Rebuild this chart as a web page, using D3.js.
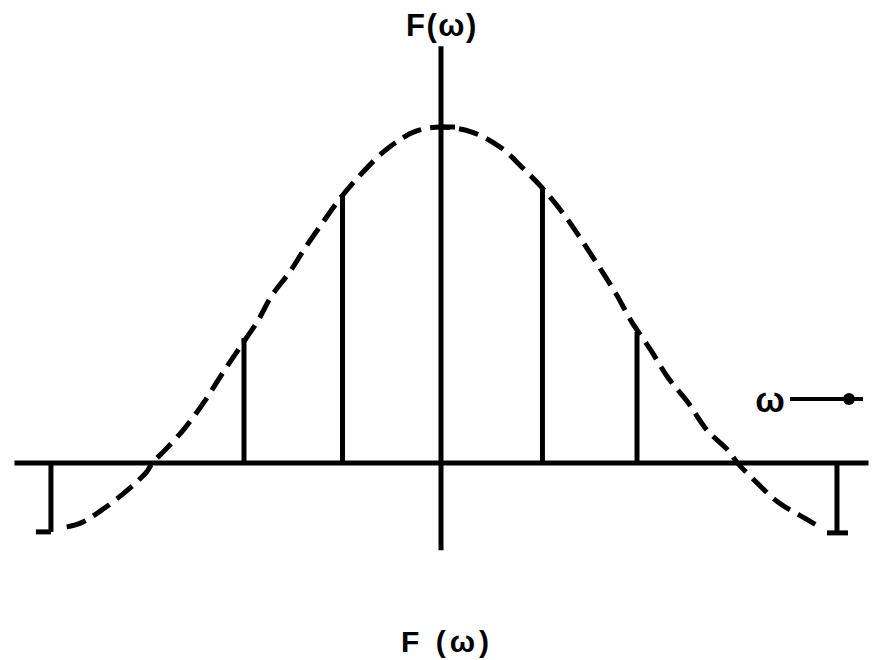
<!DOCTYPE html>
<html>
<head>
<meta charset="utf-8">
<script src="https://cdn.jsdelivr.net/npm/d3@7/dist/d3.min.js"></script>
<style>
  html, body { margin: 0; padding: 0; background: #fff; }
  svg { display: block; }
  text { font-family: "Liberation Sans", Arial, sans-serif; font-weight: bold; fill: #000; }
</style>
</head>
<body>
<script>
// Sampled spectrum: stem positions (in units of the sampling interval) and heights
const stemOmega  = [-3.96, -2.0, -1.0, 0, 1.03, 1.99, 4.02];
const stemValues = [-0.205, 0.372, 0.80, 1.0, 0.818, 0.39, -0.208];

// Continuous envelope F(ω)
const curveOmega = [-3.80, -3.66, -3.43, -3.18, -2.99, -2.93, -2.80, -2.60, -2.39, -2.21,
                    -2.04, -1.86, -1.72, -1.53, -1.38, -1.19, -1.02, -0.82, -0.60, -0.42,
                    -0.26, 0, 0.32, 0.61, 0.83, 1.03, 1.26, 1.46, 1.64, 1.79,
                    1.93, 2.13, 2.30, 2.51, 2.70, 2.92, 3.01, 3.16, 3.42, 3.71, 3.83];
const curveValues = [-0.190, -0.179, -0.137, -0.080, -0.027, 0, 0.039, 0.104, 0.188, 0.271,
                     0.345, 0.423, 0.497, 0.571, 0.640, 0.720, 0.789, 0.857, 0.922, 0.962,
                     0.987, 1.0, 0.984, 0.938, 0.878, 0.818, 0.735, 0.649, 0.568, 0.497,
                     0.423, 0.336, 0.256, 0.179, 0.098, 0.036, 0, -0.045, -0.116, -0.167, -0.188];

// Axis extents in data units
const omegaExtent = [-4.33, 4.34];
const valueExtent = [-0.26, 1.24];

// Text labels
const topLabel = "F(ω)";
const axisLabel = "ω";
const bottomLabel = "F (ω)";

const W = 880, H = 660;
const x = d3.scaleLinear().domain([0, 1]).range([441, 539.5]);
const y = d3.scaleLinear().domain([0, 1]).range([463, 127]);

const svg = d3.select("body").append("svg").attr("width", W).attr("height", H);

// Horizontal ω axis
svg.append("line")
  .attr("x1", x(omegaExtent[0])).attr("x2", x(omegaExtent[1]))
  .attr("y1", y(0)).attr("y2", y(0))
  .attr("stroke", "#000").attr("stroke-width", 5);

// Vertical F axis
svg.append("line")
  .attr("x1", x(0)).attr("x2", x(0))
  .attr("y1", y(valueExtent[1])).attr("y2", y(valueExtent[0]))
  .attr("stroke", "#000").attr("stroke-width", 5);

// Dashed envelope
const curveData = curveOmega.map((w, i) => [w, curveValues[i]]);
svg.append("path")
  .datum(curveData)
  .attr("d", d3.line().x(d => x(d[0])).y(d => y(d[1])).curve(d3.curveCatmullRom.alpha(0.5)))
  .attr("fill", "none")
  .attr("stroke", "#000")
  .attr("stroke-width", 5)
  .attr("stroke-dasharray", "20 9");

// Sample stems
const stems = stemOmega.map((w, i) => ({ w, v: stemValues[i] }));
svg.selectAll("line.stem")
  .data(stems.filter(d => d.w !== 0))
  .join("line")
  .attr("class", "stem")
  .attr("x1", d => x(d.w)).attr("x2", d => x(d.w))
  .attr("y1", y(0)).attr("y2", d => y(d.v))
  .attr("stroke", "#000").attr("stroke-width", 5);

// Small end marks on the stems (left foot, right foot, peak tick)
const capSpan = { "-3.96": [-15, 0], "4.02": [-10, 11], "0": [0, 14] };
svg.selectAll("line.cap")
  .data(stems.filter(d => capSpan[String(d.w)]))
  .join("line")
  .attr("class", "cap")
  .attr("x1", d => x(d.w) + capSpan[String(d.w)][0])
  .attr("x2", d => x(d.w) + capSpan[String(d.w)][1])
  .attr("y1", d => y(d.v)).attr("y2", d => y(d.v))
  .attr("stroke", "#000").attr("stroke-width", 5);

// Labels
svg.append("text")
  .attr("x", x(0) + 1).attr("y", 36)
  .attr("text-anchor", "middle")
  .attr("font-size", 31)
  .attr("letter-spacing", 1.5)
  .text(topLabel);

svg.append("text")
  .attr("x", 770).attr("y", 412)
  .attr("text-anchor", "middle")
  .attr("font-size", 35)
  .text(axisLabel);

svg.append("line")
  .attr("x1", 790).attr("x2", 863)
  .attr("y1", 399).attr("y2", 399)
  .attr("stroke", "#000").attr("stroke-width", 4);
svg.append("circle")
  .attr("cx", 849).attr("cy", 399).attr("r", 6)
  .attr("fill", "#000");

svg.append("text")
  .attr("x", 447).attr("y", 652)
  .attr("text-anchor", "middle")
  .attr("font-size", 30)
  .attr("letter-spacing", 4)
  .text(bottomLabel);
</script>
</body>
</html>
